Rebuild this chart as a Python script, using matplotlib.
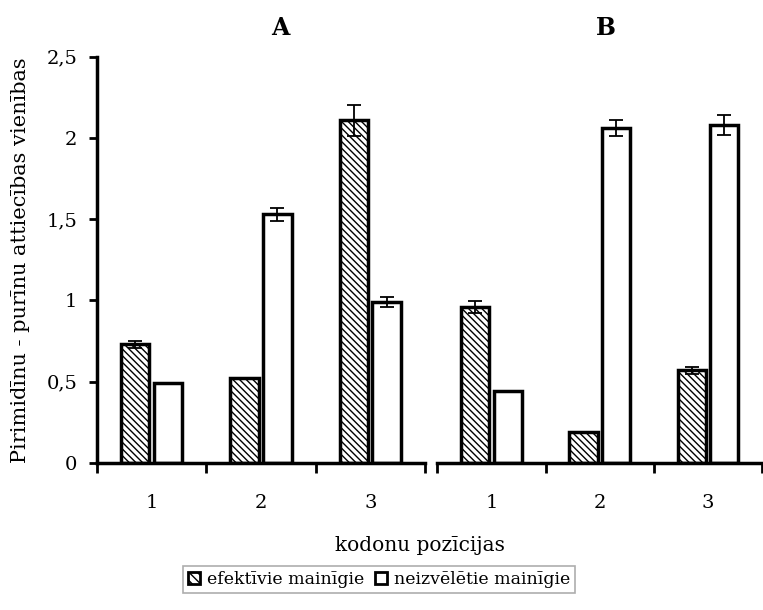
import matplotlib.pyplot as plt
from matplotlib.patches import Patch

plt.rcParams['font.family'] = ['DejaVu Serif']
plt.rcParams['hatch.linewidth'] = 1.0

positions = ['1', '2', '3']
panels = ['A', 'B']

# efektīvie mainīgie (hatched) and neizvēlētie mainīgie (white)
eff_A = [0.73, 0.52, 2.11]
eff_A_err = [0.02, 0.0, 0.095]
neiz_A = [0.49, 1.53, 0.99]
neiz_A_err = [0.0, 0.04, 0.03]

eff_B = [0.96, 0.19, 0.57]
eff_B_err = [0.035, 0.0, 0.02]
neiz_B = [0.44, 2.06, 2.08]
neiz_B_err = [0.0, 0.05, 0.06]

yticks = [0, 0.5, 1, 1.5, 2, 2.5]
ytick_labels = ['0', '0,5', '1', '1,5', '2', '2,5']

fig = plt.figure(figsize=(7.63, 6.10), dpi=100)
ax_a = fig.add_axes([0.127, 0.241, 0.430, 0.666])
ax_b = fig.add_axes([0.573, 0.241, 0.426, 0.666])

w = 0.26
x = list(range(len(positions)))
err_kw = dict(elinewidth=1.3, capthick=1.3, capsize=5, ecolor='black')

for ax, eff, eff_err, neiz, neiz_err, title, tx in [
        (ax_a, eff_A, eff_A_err, neiz_A, neiz_A_err, panels[0], 0.56),
        (ax_b, eff_B, eff_B_err, neiz_B, neiz_B_err, panels[1], 0.52)]:
    ax.bar([i - w / 2 - 0.02 for i in x], eff, width=w, color='white',
           edgecolor='black', linewidth=2.5, hatch='\\\\\\\\\\',
           yerr=eff_err, error_kw=err_kw, zorder=2)
    ax.bar([i + w / 2 + 0.02 for i in x], neiz, width=w, color='white',
           edgecolor='black', linewidth=2.5,
           yerr=neiz_err, error_kw=err_kw, zorder=2)
    ax.set_xlim(-0.5, 2.5)
    ax.set_ylim(0, 2.5)
    ax.set_xticks([-0.5, 0.5, 1.5, 2.5])
    ax.set_xticklabels([])
    ax.set_xticks(x, minor=True)
    ax.set_xticklabels(positions, minor=True, fontsize=14)
    ax.tick_params(axis='x', which='major', direction='out', length=7, width=2)
    ax.tick_params(axis='x', which='minor', length=0, pad=22)
    for side in ['top', 'right']:
        ax.spines[side].set_visible(False)
    ax.spines['bottom'].set_linewidth(2.5)
    ax.set_title(title, fontsize=17, fontweight='bold', pad=16, x=tx)

ax_a.set_yticks(yticks)
ax_a.set_yticklabels(ytick_labels, fontsize=14)
ax_a.tick_params(axis='y', direction='out', length=6, width=2, pad=8)
ax_a.spines['left'].set_linewidth(2.5)

ax_b.spines['left'].set_visible(False)
ax_b.set_yticks([])

fig.text(0.027, 0.574, 'Pirimidīnu - purīnu attiecības vienības',
         rotation=90, ha='center', va='center', fontsize=15)
fig.text(0.551, 0.105, 'kodonu pozīcijas', ha='center', va='center', fontsize=14.5)

handles = [Patch(facecolor='white', edgecolor='black', linewidth=2, hatch='\\\\\\\\'),
           Patch(facecolor='white', edgecolor='black', linewidth=2)]
leg = fig.legend(handles, ['efektīvie mainīgie', 'neizvēlētie mainīgie'],
                 loc='center', bbox_to_anchor=(0.497, 0.05), ncol=2,
                 fontsize=12.5, fancybox=False, edgecolor='#999999',
                 handlelength=0.7, handleheight=0.7, handletextpad=0.4,
                 columnspacing=0.6, borderpad=0.3)
leg.get_frame().set_linewidth(1.2)

fig.savefig('out.png', dpi=100)
